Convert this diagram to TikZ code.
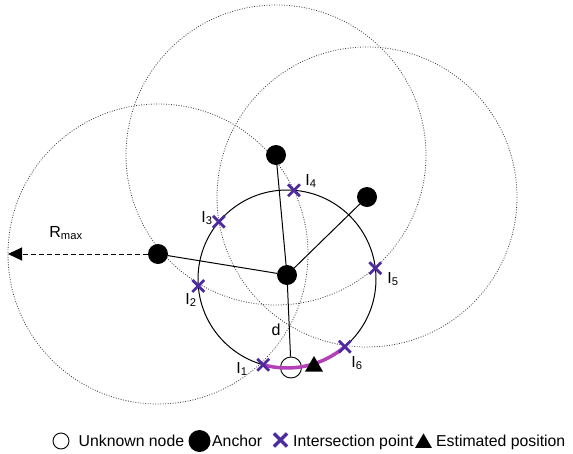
\documentclass[tikz,border=0pt]{standalone}
\usepackage{fontspec}
\setmainfont{Liberation Sans}
\usetikzlibrary{arrows.meta,shapes.misc,shapes.geometric,calc}
\definecolor{ipurple}{RGB}{78,42,160}
\definecolor{arcmag}{RGB}{180,64,184}
\begin{document}
\begin{tikzpicture}[x=1pt,y=-1pt,
 anchorpt/.style={circle,fill=black,minimum size=20pt,inner sep=0pt},
 unknownpt/.style={circle,draw=black,fill=white,line width=0.9pt,minimum size=21pt,inner sep=0pt},
 estpt/.style={regular polygon,regular polygon sides=3,fill=black,minimum size=20.8pt,inner sep=0pt},
 xmark/.style={cross out,draw=ipurple,line width=2.8pt,minimum size=9pt,inner sep=0pt},
 rangecircle/.style={black!75,line width=0.8pt,dash pattern=on 0.9pt off 1.6pt},
 link/.style={line width=1pt,black},
 lbl/.style={font=\fontsize{16}{18}\selectfont,inner sep=0pt},
 legtxt/.style={font=\fontsize{15.8}{18}\selectfont,inner sep=0pt,anchor=base west}
]
\useasboundingbox (0,0) rectangle (573,453);
% positions
\coordinate (C) at (287,279);
\coordinate (p0) at (287,275);
\coordinate (p1) at (276,155);
\coordinate (p2) at (367,197);
\coordinate (p3) at (158,254);
\coordinate (rend) at (8,254);
% range circles
\draw[rangecircle] (p1) circle[radius=150];
\draw[rangecircle] (p2) circle[radius=150];
\draw[rangecircle] (p3) circle[radius=150];
% distance circle
\draw[line width=1pt] (C) circle[radius=89];
% nodes
\node[anchorpt] (a0) at (p0) {};
\node[anchorpt] (a1) at (p1) {};
\node[anchorpt] (a2) at (p2) {};
\node[anchorpt] (a3) at (p3) {};
\node[unknownpt] (u) at (291,367.5) {};
% links
\draw[link] (a0) -- (a1);
\draw[link] (a0) -- (a2);
\draw[link] (a0) -- (a3);
\draw[link] (a0) -- (u);
% Rmax arrow
\draw[line width=1pt,dash pattern=on 5pt off 3pt,-{Triangle[length=14pt,width=13pt]}] (a3) -- (rend);
\node[lbl] (rmax) at (66,233) {R\textsubscript{max}};
% estimated arc
\draw[arcmag,line width=3.5pt] ($(C)+(49.5:89)$) arc[start angle=49.5,end angle=105.5,radius=89];
% intersection marks
\node[xmark] (i1) at ($(C)+(105.5:89)$) {};
\node[xmark] (i2) at ($(C)+(175.5:89)$) {};
\node[xmark] (i3) at ($(C)+(220:89)$) {};
\node[xmark] (i4) at ($(C)+(274.5:89)$) {};
\node[xmark] (i5) at ($(C)+(353:89)$) {};
\node[xmark] (i6) at ($(C)+(49.5:89)$) {};
\node[estpt] (est) at (314,366.4) {};
% labels
\node[lbl] (l1) at (242,369) {I\textsubscript{1}};
\node[lbl] (l2) at (191,300) {I\textsubscript{2}};
\node[lbl] (l3) at (207,218) {I\textsubscript{3}};
\node[lbl] (l4) at (311,181) {I\textsubscript{4}};
\node[lbl] (l5) at (393,279) {I\textsubscript{5}};
\node[lbl] (l6) at (357,363) {I\textsubscript{6}};
\node[lbl] (dl) at (276,330) {d};
% legend
\node[circle,draw=black,line width=0.9pt,minimum size=16pt,inner sep=0pt] (lg1) at (61,441) {};
\node[legtxt] (lt1) at (78.5,446) {Unknown node};
\node[circle,fill=black,minimum size=22pt,inner sep=0pt] (lg2) at (199.5,441) {};
\node[legtxt] (lt2) at (212,446) {Anchor};
\node[cross out,draw=ipurple,line width=3.2pt,minimum size=10pt,inner sep=0pt] (lg3) at (280.5,440) {};
\node[legtxt] (lt3) at (293,446) {Intersection point};
\node[regular polygon,regular polygon sides=3,fill=black,minimum size=19.3pt,inner sep=0pt] (lg4) at (423.5,443) {};
\node[legtxt] (lt4) at (436,446) {Estimated position};
\end{tikzpicture}
\end{document}
